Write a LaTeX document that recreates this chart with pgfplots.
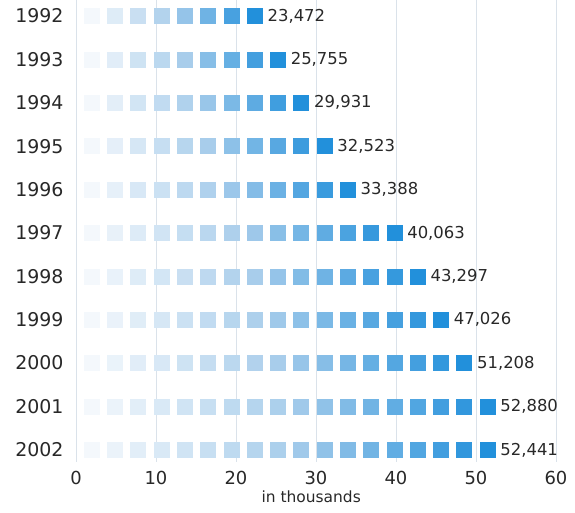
\documentclass[border=0pt]{standalone}
\usepackage{fontspec}
\setmainfont{DejaVu Sans}
\usepackage{pgfplots}
\pgfplotsset{compat=1.18}
\definecolor{gridc}{RGB}{218,226,234}
\definecolor{txt}{RGB}{40,40,40}
\pgfplotsset{sq/.style={scatter, only marks, mark=square*, mark size=7.5bp,
  point meta=x, point meta rel=per plot,
  scatter/use mapped color={draw=mapped color, fill=mapped color}}}
\begin{document}
\begin{tikzpicture}
\useasboundingbox (-76bp,-51bp) rectangle (499bp,462bp);
\begin{axis}[
  at={(0,0)}, anchor=south west,
  scale only axis, width=480bp, height=462bp,
  xmin=0, xmax=60, ymin=1991.63, ymax=2002.28, y dir=reverse,
  axis line style={draw=none},
  major tick length=0pt,
  xtick={0,10,20,30,40,50,60},
  ytick={1992,1993,1994,1995,1996,1997,1998,1999,2000,2001,2002},
  yticklabels={1992,1993,1994,1995,1996,1997,1998,1999,2000,2001,2002},
  xmajorgrids, grid style={gridc, line width=0.9bp},
  /pgf/number format/assume math mode=true,
  ticklabel style={text=txt},
  xticklabel style={font=\fontsize{18}{20}\selectfont, anchor=north, yshift=-5.5bp},
  yticklabel style={font=\fontsize{19}{22}\selectfont, anchor=east, xshift=-9bp},
  xlabel={in thousands},
  xlabel style={font=\fontsize{15.5}{18}\selectfont, text=txt, at={(axis description cs:0.49,0)}, anchor=center, yshift=-35bp},
  colormap={bluegrad}{rgb255=(244,248,252) rgb255=(168,205,235) rgb255=(34,144,219)},
  clip=false,
]
\addplot[sq] coordinates {(1.95,1992) (4.86,1992) (7.77,1992) (10.68,1992) (13.59,1992) (16.50,1992) (19.41,1992) (22.32,1992)};
\addplot[sq] coordinates {(1.95,1993) (4.86,1993) (7.77,1993) (10.68,1993) (13.59,1993) (16.50,1993) (19.41,1993) (22.32,1993) (25.23,1993)};
\addplot[sq] coordinates {(1.95,1994) (4.86,1994) (7.77,1994) (10.68,1994) (13.59,1994) (16.50,1994) (19.41,1994) (22.32,1994) (25.23,1994) (28.14,1994)};
\addplot[sq] coordinates {(1.95,1995) (4.86,1995) (7.77,1995) (10.68,1995) (13.59,1995) (16.50,1995) (19.41,1995) (22.32,1995) (25.23,1995) (28.14,1995) (31.05,1995)};
\addplot[sq] coordinates {(1.95,1996) (4.86,1996) (7.77,1996) (10.68,1996) (13.59,1996) (16.50,1996) (19.41,1996) (22.32,1996) (25.23,1996) (28.14,1996) (31.05,1996) (33.96,1996)};
\addplot[sq] coordinates {(1.95,1997) (4.86,1997) (7.77,1997) (10.68,1997) (13.59,1997) (16.50,1997) (19.41,1997) (22.32,1997) (25.23,1997) (28.14,1997) (31.05,1997) (33.96,1997) (36.87,1997) (39.78,1997)};
\addplot[sq] coordinates {(1.95,1998) (4.86,1998) (7.77,1998) (10.68,1998) (13.59,1998) (16.50,1998) (19.41,1998) (22.32,1998) (25.23,1998) (28.14,1998) (31.05,1998) (33.96,1998) (36.87,1998) (39.78,1998) (42.69,1998)};
\addplot[sq] coordinates {(1.95,1999) (4.86,1999) (7.77,1999) (10.68,1999) (13.59,1999) (16.50,1999) (19.41,1999) (22.32,1999) (25.23,1999) (28.14,1999) (31.05,1999) (33.96,1999) (36.87,1999) (39.78,1999) (42.69,1999) (45.60,1999)};
\addplot[sq] coordinates {(1.95,2000) (4.86,2000) (7.77,2000) (10.68,2000) (13.59,2000) (16.50,2000) (19.41,2000) (22.32,2000) (25.23,2000) (28.14,2000) (31.05,2000) (33.96,2000) (36.87,2000) (39.78,2000) (42.69,2000) (45.60,2000) (48.51,2000)};
\addplot[sq] coordinates {(1.95,2001) (4.86,2001) (7.77,2001) (10.68,2001) (13.59,2001) (16.50,2001) (19.41,2001) (22.32,2001) (25.23,2001) (28.14,2001) (31.05,2001) (33.96,2001) (36.87,2001) (39.78,2001) (42.69,2001) (45.60,2001) (48.51,2001) (51.42,2001)};
\addplot[sq] coordinates {(1.95,2002) (4.86,2002) (7.77,2002) (10.68,2002) (13.59,2002) (16.50,2002) (19.41,2002) (22.32,2002) (25.23,2002) (28.14,2002) (31.05,2002) (33.96,2002) (36.87,2002) (39.78,2002) (42.69,2002) (45.60,2002) (48.51,2002) (51.42,2002)};
\addplot[draw=none, nodes near coords, point meta=explicit symbolic,
  nodes near coords style={anchor=west, xshift=2.5bp, font=\fontsize{16.5}{19}\selectfont, text=txt}]
  table[x=x, y=y, meta=lab] {
x y lab
23.20 1992 23,472
26.10 1993 25,755
29.02 1994 29,931
31.93 1995 32,523
34.84 1996 33,388
40.66 1997 40,063
43.57 1998 43,297
46.48 1999 47,026
49.39 2000 51,208
52.30 2001 52,880
52.30 2002 52,441
};
\end{axis}
\end{tikzpicture}
\end{document}
